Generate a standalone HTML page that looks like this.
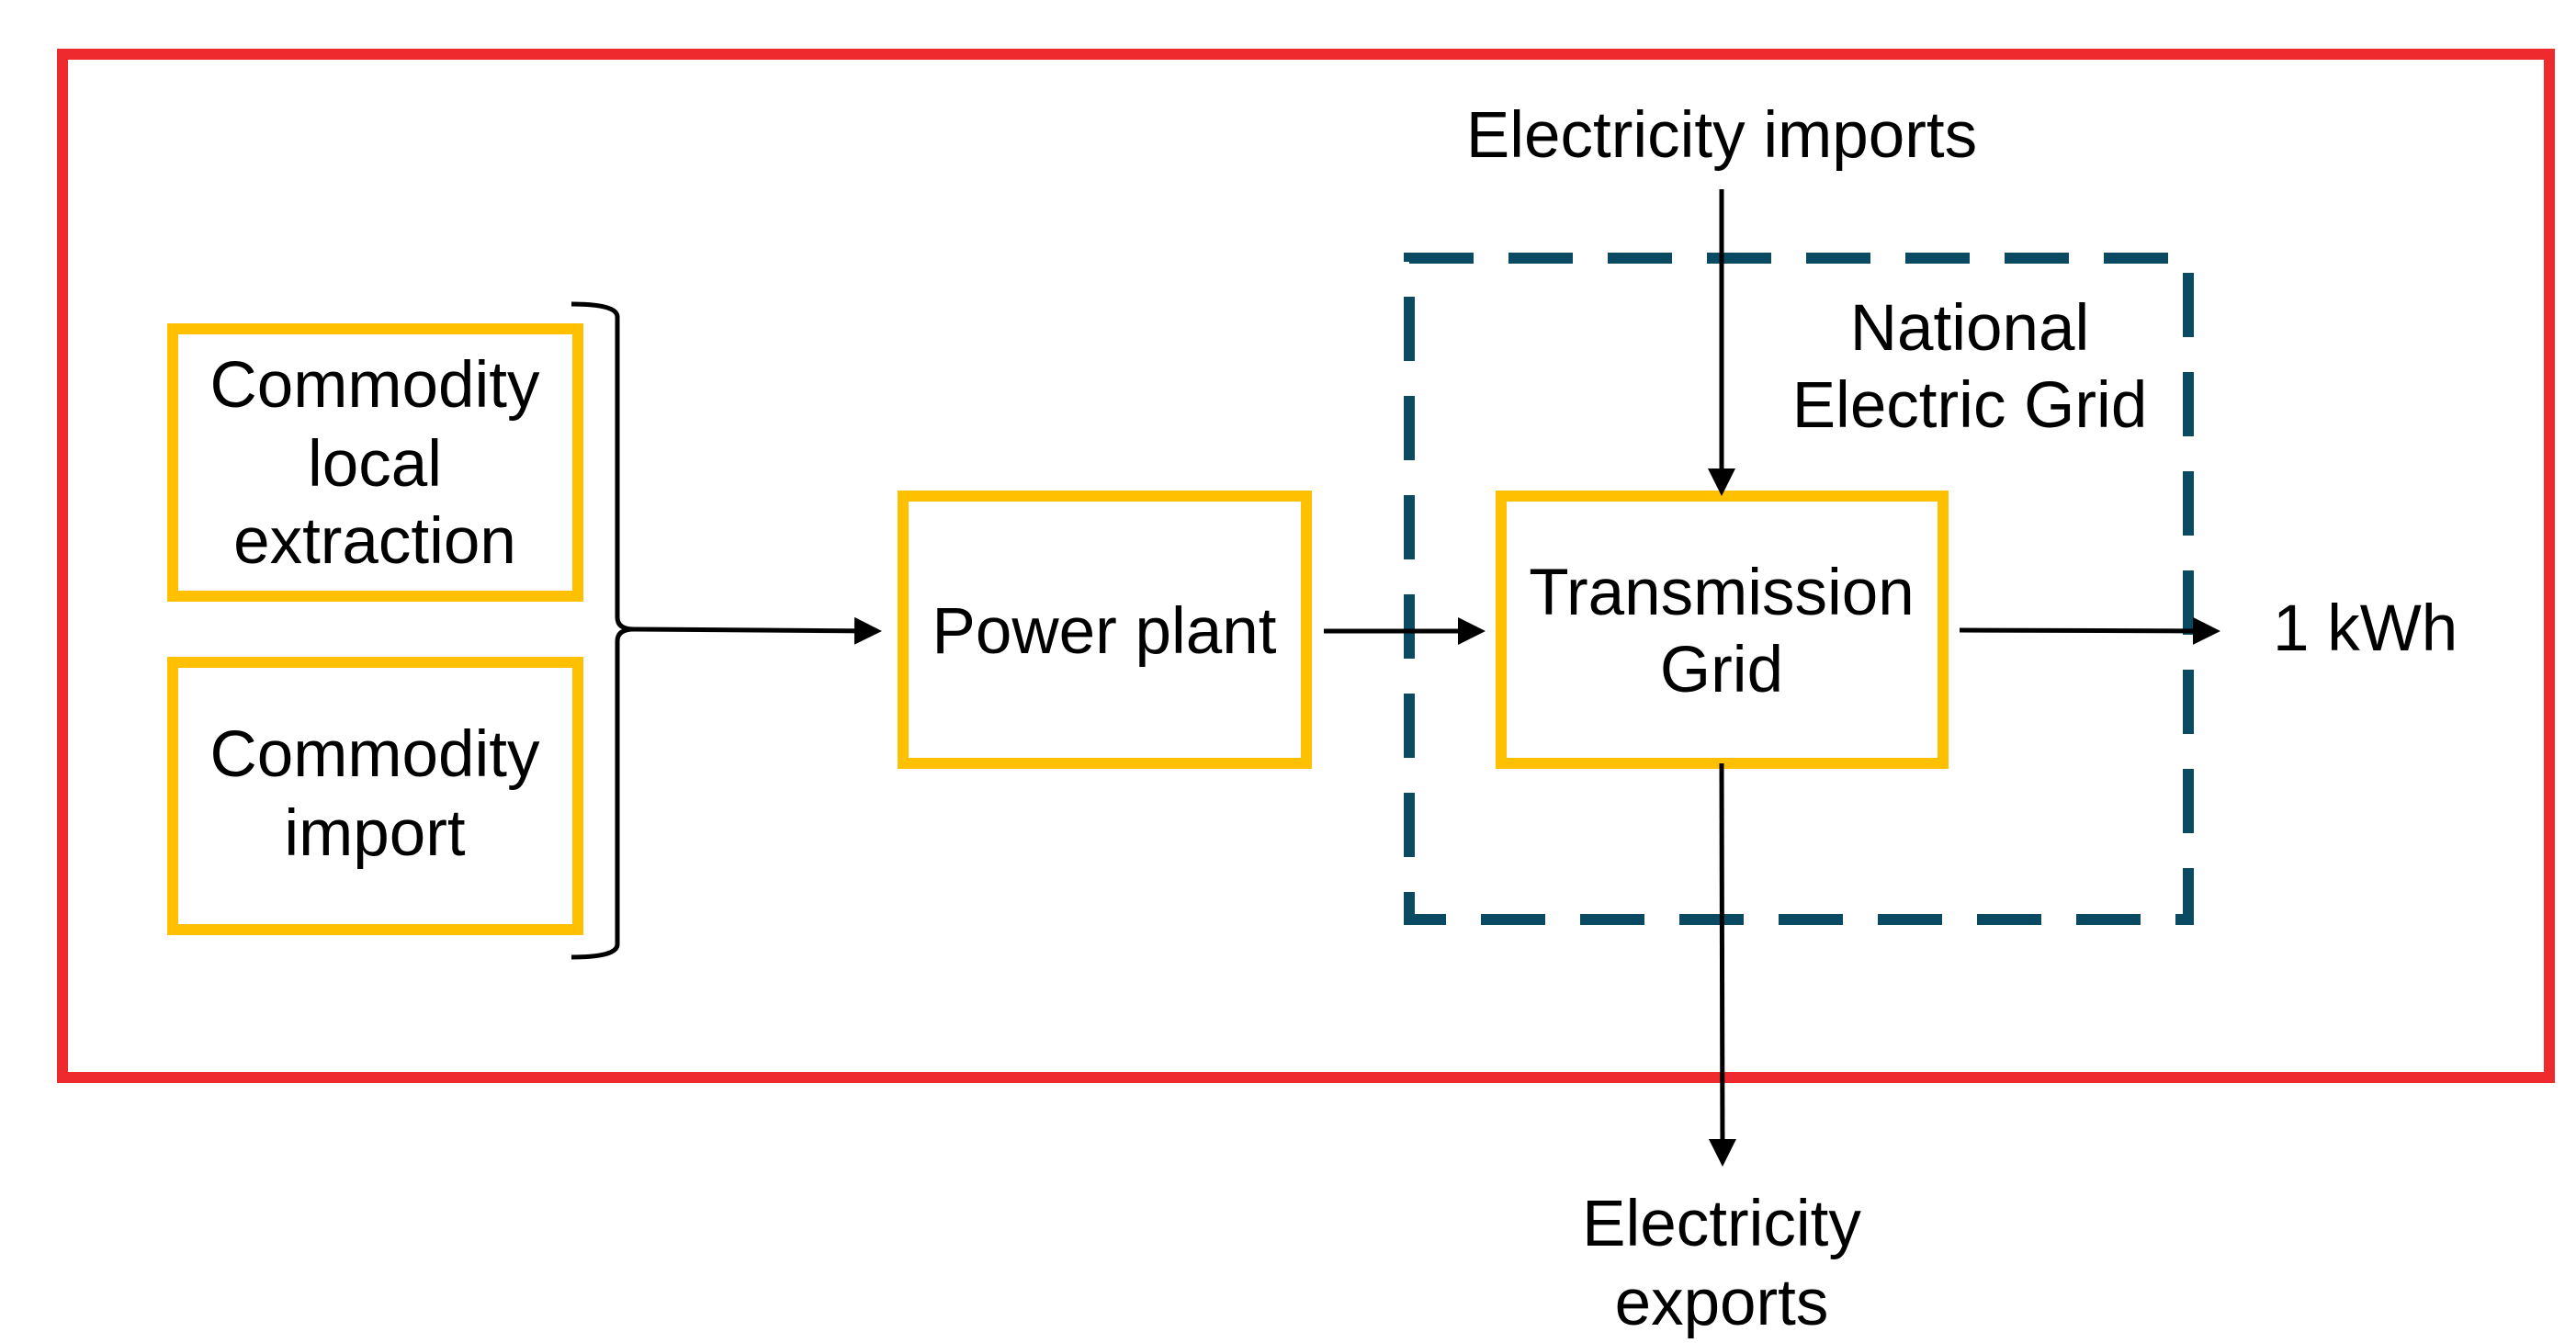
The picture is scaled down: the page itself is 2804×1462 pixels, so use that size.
<!DOCTYPE html>
<html><head><meta charset="utf-8"><style>
html,body{margin:0;padding:0;background:#fff;}
svg{display:block}
text{font-family:"Liberation Sans",Arial,sans-serif;font-size:71px;fill:#000;}
</style></head><body>
<svg width="2804" height="1462" viewBox="0 0 2804 1462" xmlns="http://www.w3.org/2000/svg">
<defs>
<marker id="ah" markerWidth="6" markerHeight="6" refX="5" refY="3" orient="auto" markerUnits="strokeWidth">
<path d="M0,0 L6,3 L0,6 z" fill="#000"/>
</marker>
</defs>
<rect x="68" y="59" width="2707" height="1114" fill="none" stroke="#EE2A2E" stroke-width="12"/>
<rect x="1534" y="281" width="848" height="720" fill="none" stroke="#0B4A63" stroke-width="12" stroke-dasharray="70 38"/>
<g fill="none" stroke="#FFC000" stroke-width="12">
<rect x="188" y="358" width="441" height="291"/>
<rect x="188" y="721" width="441" height="291"/>
<rect x="983" y="540" width="439" height="291"/>
<rect x="1634" y="540" width="481" height="291"/>
</g>
<path d="M622,331 Q672,331 672,345 L672,672 Q672,685 690,685 Q672,685 672,698 L672,1028 Q672,1042 622,1042" fill="none" stroke="#000" stroke-width="5"/>
<g stroke="#000" stroke-width="5" fill="none">
<line x1="690" y1="685" x2="955" y2="687" marker-end="url(#ah)"/>
<line x1="1441" y1="687" x2="1612" y2="687" marker-end="url(#ah)"/>
<line x1="2133" y1="686" x2="2412" y2="687" marker-end="url(#ah)"/>
<line x1="1874" y1="206" x2="1874" y2="535" marker-end="url(#ah)"/>
<line x1="1874" y1="831" x2="1875" y2="1265" marker-end="url(#ah)"/>
</g>
<g text-anchor="middle">
<text x="408" y="443">Commodity</text>
<text x="408" y="529">local</text>
<text x="408" y="613">extraction</text>
<text x="408" y="845">Commodity</text>
<text x="408" y="931">import</text>
<text x="1202" y="711">Power plant</text>
<text x="1874" y="669">Transmission</text>
<text x="1874" y="753">Grid</text>
<text x="1874" y="171">Electricity imports</text>
<text x="2144" y="381">National</text>
<text x="2144" y="465">Electric Grid</text>
<text x="1874" y="1356">Electricity</text>
<text x="1874" y="1442">exports</text>
</g>
<text x="2474" y="708">1 kWh</text>
</svg>
</body></html>
